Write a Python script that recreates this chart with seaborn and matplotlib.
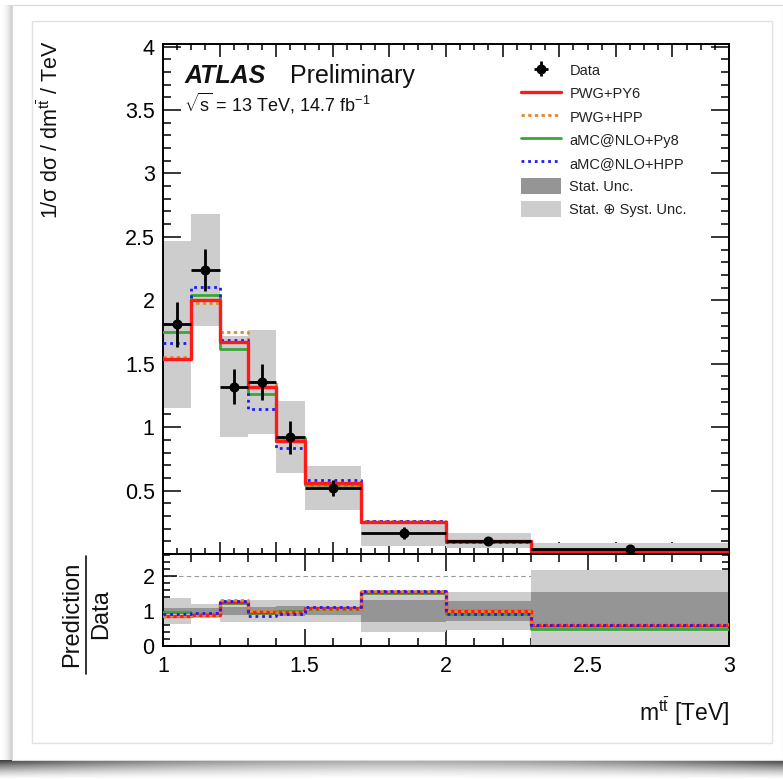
import numpy as np
import pandas as pd
import matplotlib
matplotlib.use("Agg")
import matplotlib.pyplot as plt
import seaborn as sns
from matplotlib.lines import Line2D
from matplotlib.patches import Patch, Rectangle
from matplotlib.ticker import MultipleLocator, FuncFormatter

# ---------------------------------------------------------------- data
bin_edges = [1.0, 1.1, 1.2, 1.3, 1.4, 1.5, 1.7, 2.0, 2.3, 3.0]
data_vals = [1.81, 2.24, 1.32, 1.355, 0.92, 0.52, 0.165, 0.105, 0.040]
data_stat = [0.18, 0.165, 0.135, 0.14, 0.13, 0.06, 0.05, 0.03, 0.022]
data_tot = [0.66, 0.44, 0.40, 0.41, 0.285, 0.17, 0.098, 0.058, 0.047]

pwg_py6 = [1.54, 2.00, 1.668, 1.32, 0.888, 0.56, 0.255, 0.104, 0.024]
pwg_hpp = [1.55, 1.98, 1.747, 1.354, 0.90, 0.545, 0.258, 0.105, 0.025]
amc_py8 = [1.75, 2.04, 1.616, 1.26, 0.917, 0.545, 0.25, 0.095, 0.020]
amc_hpp = [1.66, 2.105, 1.687, 1.145, 0.835, 0.58, 0.258, 0.095, 0.024]

series_labels = ["PWG+PY6", "PWG+HPP", "aMC@NLO+Py8", "aMC@NLO+HPP"]

# ---------------------------------------------------------------- style
sns.set_style("ticks")
plt.rcParams["font.family"] = ["Liberation Sans", "DejaVu Sans"]
plt.rcParams["mathtext.fontset"] = "custom"
plt.rcParams["mathtext.rm"] = "Liberation Sans"
plt.rcParams["mathtext.it"] = "Liberation Sans:italic"
plt.rcParams["mathtext.bf"] = "Liberation Sans:bold"
plt.rcParams["axes.linewidth"] = 1.4

W, H = 783, 780
fig = plt.figure(figsize=(W / 100, H / 100), dpi=100)
fig.patch.set_facecolor("white")

# ---------------------------------------------------------------- card and shadow
bg = fig.add_axes([0, 0, 1, 1], zorder=-5)
bg.set_xlim(0, W)
bg.set_ylim(H, 0)
bg.axis("off")
xs = np.linspace(0, 1, W)
rows = np.linspace(0, 1, 20)
edge = np.abs(xs - 0.5) * 2
dark = ((1 - rows)[:, None] ** 1.4) * (0.35 + 0.40 * edge[None, :] ** 2)
bg.imshow(1 - dark, cmap="gray", vmin=0, vmax=1, extent=(0, W, H, 760),
          aspect="auto", interpolation="bilinear")
cols = np.linspace(0, 1, 12)
side = 1 - 0.18 * cols[None, :] ** 2
bg.imshow(np.repeat(side, 10, axis=0), cmap="gray", vmin=0, vmax=1,
          extent=(0, 12, 760, 5), aspect="auto", interpolation="bilinear")
bg.add_patch(Rectangle((12, 5), W - 12, 755, facecolor="white",
                       edgecolor="#d8d8d8", lw=0.8))
bg.add_patch(Rectangle((32, 21), 740, 722, facecolor="white",
                       edgecolor="#e2e2e2", lw=1.0))

# ---------------------------------------------------------------- axes
left, width = 163 / W, 566 / W
ax = fig.add_axes([left, (H - 554) / H, width, 510 / H])
axr = fig.add_axes([left, (H - 646) / H, width, 92 / H])

edges = np.array(bin_edges)
centers = 0.5 * (edges[:-1] + edges[1:])
halfw = 0.5 * np.diff(edges)
d = np.array(data_vals)
st = np.array(data_stat)
tot = np.array(data_tot)

light = "#cdcdcd"
darkg = "#959595"
colors = ["#ff1a1a", "#e08a2c", "#3aa63a", "#1a1aff"]
styles = ["-", (0, (1.2, 1.2)), "-", (0, (1, 1.4))]
widths = [2.4, 2.0, 2.0, 2.0]
preds = [pwg_py6, pwg_hpp, amc_py8, amc_hpp]


def step_hist(axis, values, i):
    frame = pd.DataFrame({"m": centers, "w": np.asarray(values, float)})
    sns.histplot(data=frame, x="m", weights="w", bins=list(bin_edges),
                 element="step", fill=False, color=colors[i],
                 linestyle=styles[i], linewidth=widths[i], ax=axis, zorder=3)


# main panel: total uncertainty band, predictions, data
ax.bar(centers, 2 * tot, bottom=d - tot, width=2 * halfw, color=light,
       linewidth=0, zorder=1)
for i in [2, 1, 3, 0]:
    step_hist(ax, preds[i], i)

data_handle = ax.errorbar(centers, d, xerr=halfw, yerr=st, fmt="o",
                          color="black", ms=6.2, elinewidth=2, capsize=0,
                          zorder=6)

# ratio panel
axr.axhline(2, color="#999999", lw=0.8, ls=(0, (4, 3)), zorder=0.5)
axr.bar(centers, 2 * tot / d, bottom=1 - tot / d, width=2 * halfw,
        color=light, linewidth=0, zorder=1)
axr.bar(centers, 2 * st / d, bottom=1 - st / d, width=2 * halfw,
        color=darkg, linewidth=0, zorder=1.5)
for i in [2, 0, 1, 3]:
    step_hist(axr, np.array(preds[i]) / d, i)

# ---------------------------------------------------------------- axes cosmetics
fmt = FuncFormatter(lambda v, p: "%g" % round(v, 3))
for a in (ax, axr):
    a.set_xlim(1.0, 3.0)
    a.set_xlabel("")
    a.set_ylabel("")
    a.set_facecolor("none")
    for s in a.spines.values():
        s.set_visible(True)
        s.set_color("black")
    a.tick_params(which="both", direction="in", top=True, right=True,
                  colors="black", width=1.1)

ax.set_ylim(0, 4.02)
ax.xaxis.set_major_locator(MultipleLocator(0.2))
ax.xaxis.set_minor_locator(MultipleLocator(0.05))
ax.yaxis.set_major_locator(MultipleLocator(0.5))
ax.yaxis.set_minor_locator(MultipleLocator(0.1))
ax.tick_params(axis="x", which="major", length=9, labelbottom=False)
ax.tick_params(axis="x", which="minor", length=4.5)
ax.tick_params(axis="y", which="major", length=13, labelsize=15.5, pad=6)
ax.tick_params(axis="y", which="minor", length=6)
ax.yaxis.set_major_formatter(FuncFormatter(
    lambda v, p: "" if abs(v) < 1e-6 else "%g" % round(v, 3)))

axr.set_ylim(0, 2.63)
axr.xaxis.set_major_locator(MultipleLocator(0.5))
axr.xaxis.set_minor_locator(MultipleLocator(0.1))
axr.yaxis.set_major_locator(MultipleLocator(1))
axr.yaxis.set_minor_locator(MultipleLocator(0.2))
axr.tick_params(axis="x", which="major", length=12, labelsize=15.5, pad=7)
axr.tick_params(axis="x", which="minor", length=6)
axr.tick_params(axis="y", which="major", length=10, labelsize=15.5, pad=6)
axr.tick_params(axis="y", which="minor", length=5)
axr.xaxis.set_major_formatter(fmt)
axr.yaxis.set_major_formatter(fmt)

# ---------------------------------------------------------------- titles
fig.text(50 / W, 1 - 40 / H,
         "1/σ dσ / dm$^{\\mathrm{t\\bar{t}}}$ / TeV",
         rotation=90, ha="center", va="top", fontsize=15.5, color="#111111")
fig.text(729 / W, 1 - 712 / H, "m$^{\\mathrm{t\\bar{t}}}$ [TeV]",
         ha="right", va="center", fontsize=16.5, color="#111111")
fig.text(72 / W, 1 - 614 / H, "Prediction", rotation=90,
         ha="center", va="center", fontsize=17, color="#111111")
fig.text(101 / W, 1 - 614 / H, "Data", rotation=90,
         ha="center", va="center", fontsize=17, color="#111111")
fig.add_artist(Line2D([86 / W, 86 / W], [1 - 556 / H, 1 - 674 / H],
                      transform=fig.transFigure, color="#111111", lw=1.2))

fig.text(185 / W, 1 - 76 / H, "ATLAS", fontsize=18, fontweight="bold",
         fontstyle="italic", ha="left", va="center", color="#111111")
fig.text(290 / W, 1 - 76 / H, "Preliminary", fontsize=18,
         ha="left", va="center", color="#111111")
fig.text(184 / W, 1 - 103 / H,
         "$\\sqrt{\\mathrm{s}}$ = 13 TeV, 14.7 fb$^{-1}$",
         fontsize=13, ha="left", va="center", color="#111111")

# ---------------------------------------------------------------- legend
handles = [data_handle]
for i in range(4):
    handles.append(Line2D([], [], color=colors[i], ls=styles[i],
                          lw=widths[i]))
handles.append(Patch(facecolor=darkg, edgecolor="none"))
handles.append(Patch(facecolor=light, edgecolor="none"))
labels = ["Data"] + series_labels + ["Stat. Unc.", "Stat. ⊕ Syst. Unc."]
leg = ax.legend(handles, labels, loc="upper left",
                bbox_to_anchor=(514 / W, 1 - 55 / H),
                bbox_transform=fig.transFigure, frameon=False, borderpad=0,
                fontsize=10.5, handlelength=2.7, handleheight=1.3,
                handletextpad=0.6, labelspacing=0.5)
for t in leg.get_texts():
    t.set_color("#222222")

fig.savefig("out.png", dpi=100, facecolor="white")
